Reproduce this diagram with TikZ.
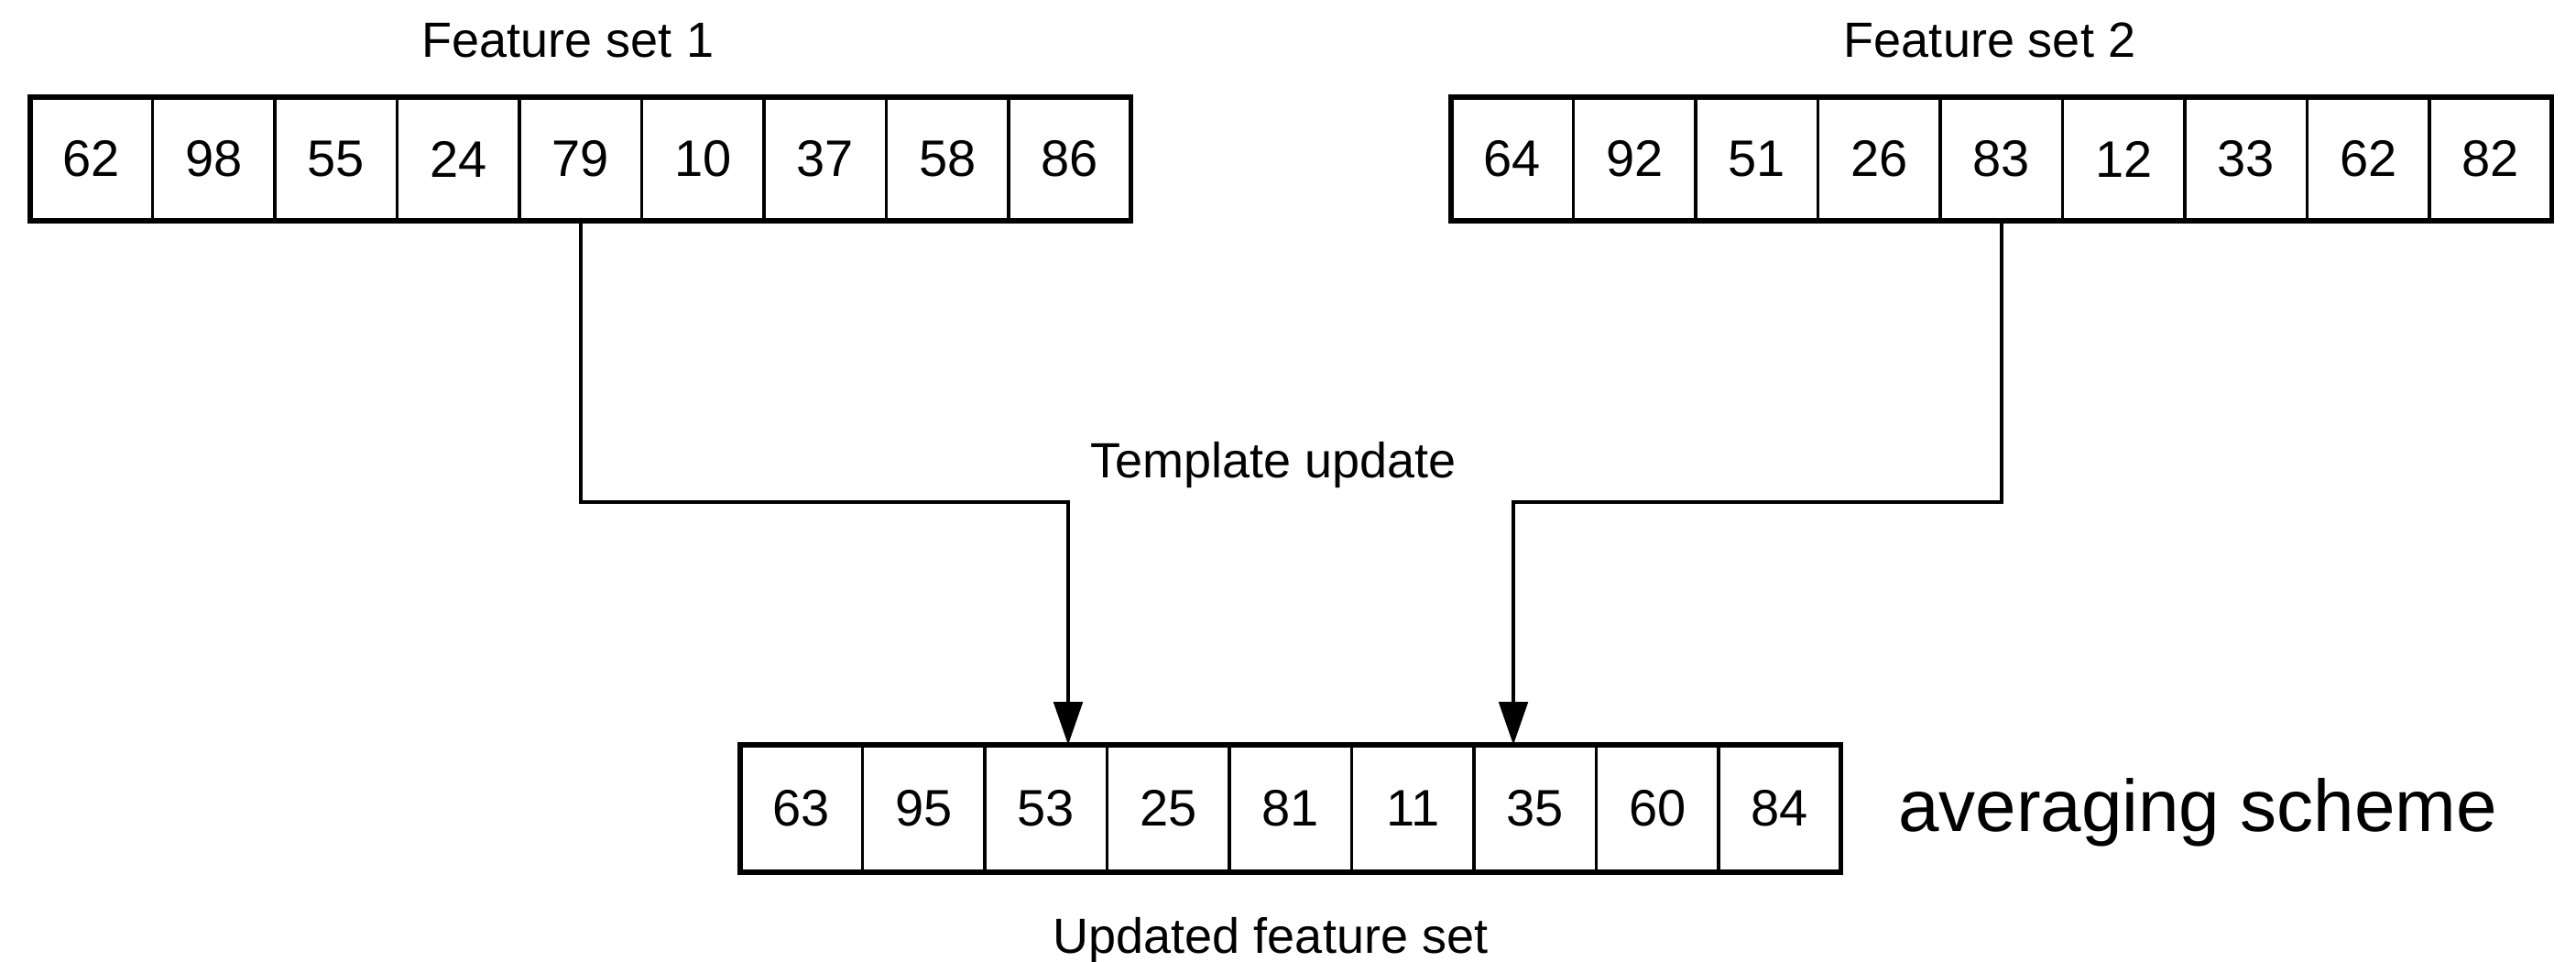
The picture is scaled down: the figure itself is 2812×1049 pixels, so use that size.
\documentclass[tikz,border=0pt]{standalone}
\usepackage{fontspec}
\setmainfont{Liberation Sans}
\usetikzlibrary{arrows.meta,calc}
\begin{document}
\begin{tikzpicture}[x=0.25pt,y=-0.25pt,
  cell/.style={draw, line width=0.8pt, minimum width=33.375pt, inner sep=0pt,
    outer sep=0pt, font=\fontsize{14}{16}\selectfont},
  toprow/.style={cell, minimum height=33.75pt},
  botrow/.style={cell, minimum height=34.75pt},
  frame/.style={line width=1.4pt},
  caption/.style={anchor=base, inner sep=0pt, font=\fontsize{13.5}{16}\selectfont},
  link/.style={line width=1.1pt, -{Triangle[length=11.7pt,width=7.8pt]}}]
\useasboundingbox (0,0) rectangle (2812,1049);

% first feature vector
\foreach \v [count=\i] in {62,98,55,24,79,10,37,58,86}
  \node[toprow] (a\i) at ({33+133.5*(\i-0.5)},173.5) {\v};
\draw[frame] (a1.north west) rectangle (a9.south east);

% second feature vector
\foreach \v [count=\i] in {64,92,51,26,83,12,33,62,82}
  \node[toprow] (b\i) at ({1584+133.5*(\i-0.5)},173.5) {\v};
\draw[frame] (b1.north west) rectangle (b9.south east);

% updated template
\foreach \v [count=\i] in {63,95,53,25,81,11,35,60,84}
  \node[botrow] (u\i) at ({808+133.5*(\i-0.5)},882.5) {\v};
\draw[frame] (u1.north west) rectangle (u9.south east);

% captions
\node[caption] (t1) at (620,63) {Feature set 1};
\node[caption] (t2) at (2172,63) {Feature set 2};
\node[caption] (tu) at (1390,521) {Template update};
\node[caption] (tn) at (1387,1040) {Updated feature set};
\node[anchor=base, inner sep=0pt, font=\fontsize{20}{24}\selectfont] (avg) at (2399,907) {averaging scheme};

% update connectors
\coordinate (inA) at (1166,0 |- u1.north);
\coordinate (inB) at (1652,0 |- u1.north);
\draw[link] (a5.south) -- ++(0,307) -| (inA);
\draw[link] (b5.south) -- ++(0,307) -| (inB);
\end{tikzpicture}
\end{document}
